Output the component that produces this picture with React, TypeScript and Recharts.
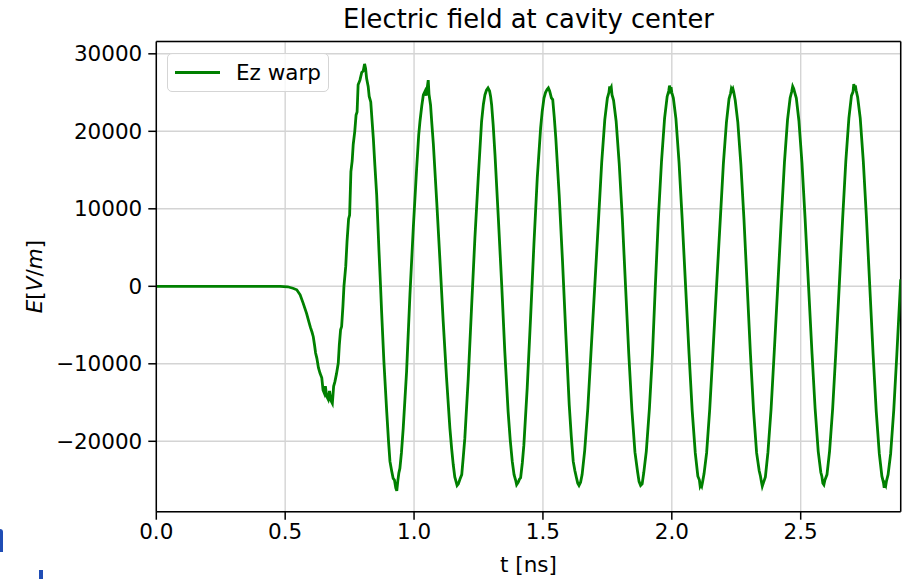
import { CartesianGrid, Legend, Line, LineChart, ReferenceLine, XAxis, YAxis } from "recharts"

// Ez at the cavity centre, [t (ns), E (V/m)]
const quiet: [number, number][] = [
    [0, 0], [0.1, 0], [0.2, 0], [0.3, 0], [0.4, 0], [0.48, 0], [0.51, -60],
]

const onset: [number, number][] = [
    [0.53, -250], [0.545, -450], [0.558, -1100], [0.57, -2200], [0.583, -3500],
    [0.592, -4600], [0.598, -5300], [0.604, -5900], [0.609, -6500], [0.614, -7600],
    [0.618, -8600], [0.623, -9300], [0.629, -10500], [0.635, -11200], [0.642, -11800],
    [0.647, -13400], [0.652, -13800], [0.656, -12900], [0.661, -14200], [0.667, -14600],
    [0.672, -13500], [0.677, -14700], [0.683, -15100], [0.688, -12900], [0.693, -12300],
    [0.699, -11300], [0.706, -9900], [0.71, -7600], [0.715, -5600], [0.719, -5200],
    [0.724, -2600], [0.728, 0],
]

const firstCycles: [number, number][] = [
    [0.735, 2600], [0.74, 5800], [0.746, 8700], [0.75, 9200], [0.755, 14800],
    [0.76, 16200], [0.764, 18300], [0.77, 20000], [0.775, 22100], [0.779, 22500],
    [0.783, 26000], [0.79, 26600], [0.797, 27600], [0.803, 27800], [0.808, 28700],
    [0.812, 28100], [0.816, 26800], [0.822, 25800], [0.826, 24500], [0.832, 23800],
    [0.837, 21400], [0.842, 19100], [0.848, 15600], [0.855, 11800], [0.864, 4500],
    [0.87, 0], [0.874, -3200], [0.883, -9700], [0.894, -16200], [0.901, -20000],
    [0.9065, -22600], [0.913, -23800], [0.919, -24800], [0.924, -25000], [0.929, -26000],
    [0.933, -26400], [0.937, -25100], [0.941, -24100], [0.945, -23500], [0.951, -21500],
    [0.958, -18300], [0.971, -11000], [0.984, -1100], [0.997, 7500], [1.01, 15200],
    [1.018, 19500], [1.023, 21300], [1.03, 23300], [1.036, 24700], [1.043, 25200],
    [1.047, 24600], [1.051, 25600], [1.055, 26600], [1.058, 24800], [1.064, 23400],
    [1.069, 21000], [1.075, 18300], [1.088, 10900], [1.1, 3600], [1.113, -4500],
    [1.126, -11800], [1.139, -18300], [1.146, -21000], [1.152, -23000], [1.158, -24600],
    [1.163, -25200], [1.167, -25700], [1.172, -25500], [1.178, -24900], [1.185, -24300],
    [1.191, -22000], [1.197, -19600], [1.21, -12000], [1.223, -2800], [1.236, 6200],
    [1.249, 14000], [1.262, 21300], [1.269, 23500], [1.275, 24700], [1.281, 25300],
    [1.287, 25600], [1.293, 25200], [1.297, 24500], [1.301, 23400], [1.307, 20800],
    [1.314, 17000], [1.327, 8800], [1.34, 200], [1.352, -8400], [1.365, -16200],
    [1.373, -19800], [1.381, -22600], [1.388, -24300], [1.394, -25000], [1.398, -25600],
    [1.404, -25300], [1.409, -24900], [1.4135, -24700], [1.42, -22800], [1.426, -20500],
    [1.439, -13100], [1.452, -4100], [1.465, 5400], [1.478, 14000], [1.491, 20400],
    [1.497, 22500], [1.504, 24300], [1.51, 25000], [1.516, 25400], [1.521, 25600],
    [1.526, 25200], [1.533, 24300], [1.538, 24100], [1.544, 21800], [1.55, 19100],
    [1.563, 11800], [1.576, 3200], [1.589, -6300], [1.602, -15300], [1.61, -19400],
    [1.6175, -22600], [1.624, -23800], [1.63, -24700], [1.635, -25400], [1.64, -25700],
]

const steadyCycles: [number, number][] = [
    [1.646, -25300], [1.652, -24300], [1.662, -21200], [1.674, -15800], [1.686, -8800],
    [1.701, 0], [1.716, 8800], [1.728, 16000], [1.74, 21500], [1.75, 24300],
    [1.756, 25000], [1.759, 25800], [1.762, 25500], [1.765, 25700], [1.768, 24700],
    [1.774, 24000], [1.784, 21300], [1.796, 15800], [1.808, 8800], [1.8205, 0],
    [1.833, -8700], [1.845, -15900], [1.857, -21400], [1.867, -23900], [1.873, -25200],
    [1.879, -25700], [1.885, -25500], [1.891, -24100], [1.901, -21300], [1.913, -15800],
    [1.925, -8700], [1.936, 0], [1.948, 8900], [1.96, 16100], [1.972, 21700],
    [1.982, 24500], [1.988, 25200], [1.991, 25900], [1.994, 25400], [1.997, 25700],
    [2.0, 25000], [2.006, 24300], [2.016, 21600], [2.028, 16000], [2.04, 8800],
    [2.0535, 0], [2.067, -8800], [2.079, -16000], [2.091, -21500], [2.101, -24500],
    [2.107, -25000], [2.11, -25800], [2.113, -25600], [2.116, -25800], [2.119, -25300],
    [2.125, -24200], [2.135, -21500], [2.147, -15900], [2.159, -8800], [2.1735, 0],
    [2.188, 8600], [2.2, 15800], [2.212, 21200], [2.222, 24200], [2.228, 24900],
    [2.231, 25500], [2.234, 25300], [2.237, 25500], [2.24, 25100], [2.246, 24000],
    [2.256, 21200], [2.268, 15700], [2.28, 8600], [2.2925, 0], [2.305, -8700],
    [2.317, -16000], [2.329, -21500], [2.339, -23800], [2.344, -24500], [2.348, -25300],
    [2.351, -25800], [2.355, -25400], [2.363, -24600], [2.373, -21400], [2.385, -15900],
    [2.397, -8700], [2.411, 0], [2.425, 8800], [2.437, 16000], [2.449, 21500],
    [2.459, 24300], [2.465, 25100], [2.469, 25800], [2.473, 25500], [2.477, 25000],
    [2.483, 24300], [2.493, 21400], [2.505, 15900], [2.517, 8800], [2.5305, 0],
    [2.544, -8700], [2.556, -15800], [2.568, -21300], [2.578, -24000], [2.582, -24500],
    [2.586, -25400], [2.59, -25600], [2.594, -25000], [2.602, -24300], [2.612, -21300],
    [2.624, -15800], [2.636, -8700], [2.6495, 0], [2.663, 8900], [2.675, 16100],
    [2.687, 21700], [2.697, 24600], [2.703, 25100], [2.706, 26100], [2.709, 25300],
    [2.712, 25900], [2.715, 25300], [2.721, 24400], [2.731, 21700], [2.743, 16100],
    [2.755, 8900], [2.768, 0], [2.781, -8800], [2.793, -16100], [2.805, -21600],
    [2.815, -24500], [2.821, -25300], [2.824, -26000], [2.827, -25500], [2.83, -25700],
    [2.833, -25100], [2.839, -24300], [2.849, -21600], [2.861, -16000], [2.873, -8800],
    [2.888, 900],
]

const xTicks = [0, 0.5, 1.0, 1.5, 2.0, 2.5]
const yTicks = [-20000, -10000, 0, 10000, 20000, 30000]
const xDomain: [number, number] = [0, 2.888]
const yDomain: [number, number] = [-29085, 31590]

const FONT = "'DejaVu Sans', sans-serif"
const GREEN = "#008000"
const LABEL_SIZE = 21.5

const chartData = [...quiet, ...onset, ...firstCycles, ...steadyCycles].map(([t, e]) => ({ t, ez: e }))

const fmtY = (v: number) => (v < 0 ? "\u2212" + Math.abs(v) : String(v))

const LegendBox = () => (
    <div
        style={{
            width: 162,
            height: 39,
            boxSizing: "border-box",
            border: "1.5px solid #d5d5d5",
            borderRadius: 5,
            background: "rgba(255,255,255,0.8)",
            display: "flex",
            alignItems: "center",
            fontFamily: FONT,
            fontSize: LABEL_SIZE,
            color: "#000",
        }}
    >
        <span style={{ display: "inline-block", width: 45, height: 3, background: GREEN, marginLeft: 7, marginRight: 16 }} />
        <span>Ez warp</span>
    </div>
)

export default function App() {
    return (
        <div style={{ position: "absolute", left: 0, top: 0, width: 915, height: 579, background: "#fff", overflow: "hidden" }}>
            <LineChart
                width={915}
                height={579}
                data={chartData}
                margin={{ top: 41.5, right: 14.3, bottom: 27.3, left: 0 }}
            >
                <CartesianGrid stroke="#d4d4d4" strokeWidth={1.4} />
                <XAxis
                    dataKey="t"
                    type="number"
                    domain={xDomain}
                    ticks={xTicks}
                    allowDataOverflow
                    height={40}
                    tickFormatter={(v: number) => v.toFixed(1)}
                    stroke="#000"
                    strokeWidth={1.5}
                    tickSize={8}
                    tickMargin={4}
                    tick={{ fill: "#000", fontSize: LABEL_SIZE, fontFamily: FONT }}
                />
                <YAxis
                    type="number"
                    domain={yDomain}
                    ticks={yTicks}
                    allowDataOverflow
                    width={156.3}
                    tickFormatter={fmtY}
                    stroke="#000"
                    strokeWidth={1.5}
                    tickSize={8}
                    tickMargin={6}
                    tick={{ fill: "#000", fontSize: LABEL_SIZE, fontFamily: FONT }}
                />
                <ReferenceLine y={yDomain[1]} stroke="#000" strokeWidth={1.5} />
                <ReferenceLine x={xDomain[1]} stroke="#000" strokeWidth={1.5} />
                <Line
                    type="linear"
                    dataKey="ez"
                    name="Ez warp"
                    stroke={GREEN}
                    strokeWidth={2.8}
                    dot={false}
                    isAnimationActive={false}
                />
                <Legend
                    layout="horizontal"
                    verticalAlign="middle"
                    content={<LegendBox />}
                    wrapperStyle={{ left: 167, top: 52.5, width: "auto" }}
                />
                <text x={528.5} y={28} textAnchor="middle" fontSize={25.8} fontFamily={FONT} fill="#000">
                    Electric field at cavity center
                </text>
                <text x={528.5} y={572} textAnchor="middle" fontSize={LABEL_SIZE} fontFamily={FONT} fill="#000">
                    t [ns]
                </text>
                <text x={42} y={276.6} transform="rotate(-90 42 276.6)" textAnchor="middle" fontSize={LABEL_SIZE} fontFamily={FONT} fill="#000">
                    <tspan fontStyle="italic">E</tspan>[<tspan fontStyle="italic">V</tspan>/<tspan fontStyle="italic">m</tspan>]
                </text>
            </LineChart>
            <div style={{ position: "absolute", left: 0, top: 529, width: 3, height: 23, background: "#1f4db5", borderTopRightRadius: 3 }} />
            <div style={{ position: "absolute", left: 39, top: 570, width: 4, height: 9, background: "#1f4db5" }} />
        </div>
    )
}
